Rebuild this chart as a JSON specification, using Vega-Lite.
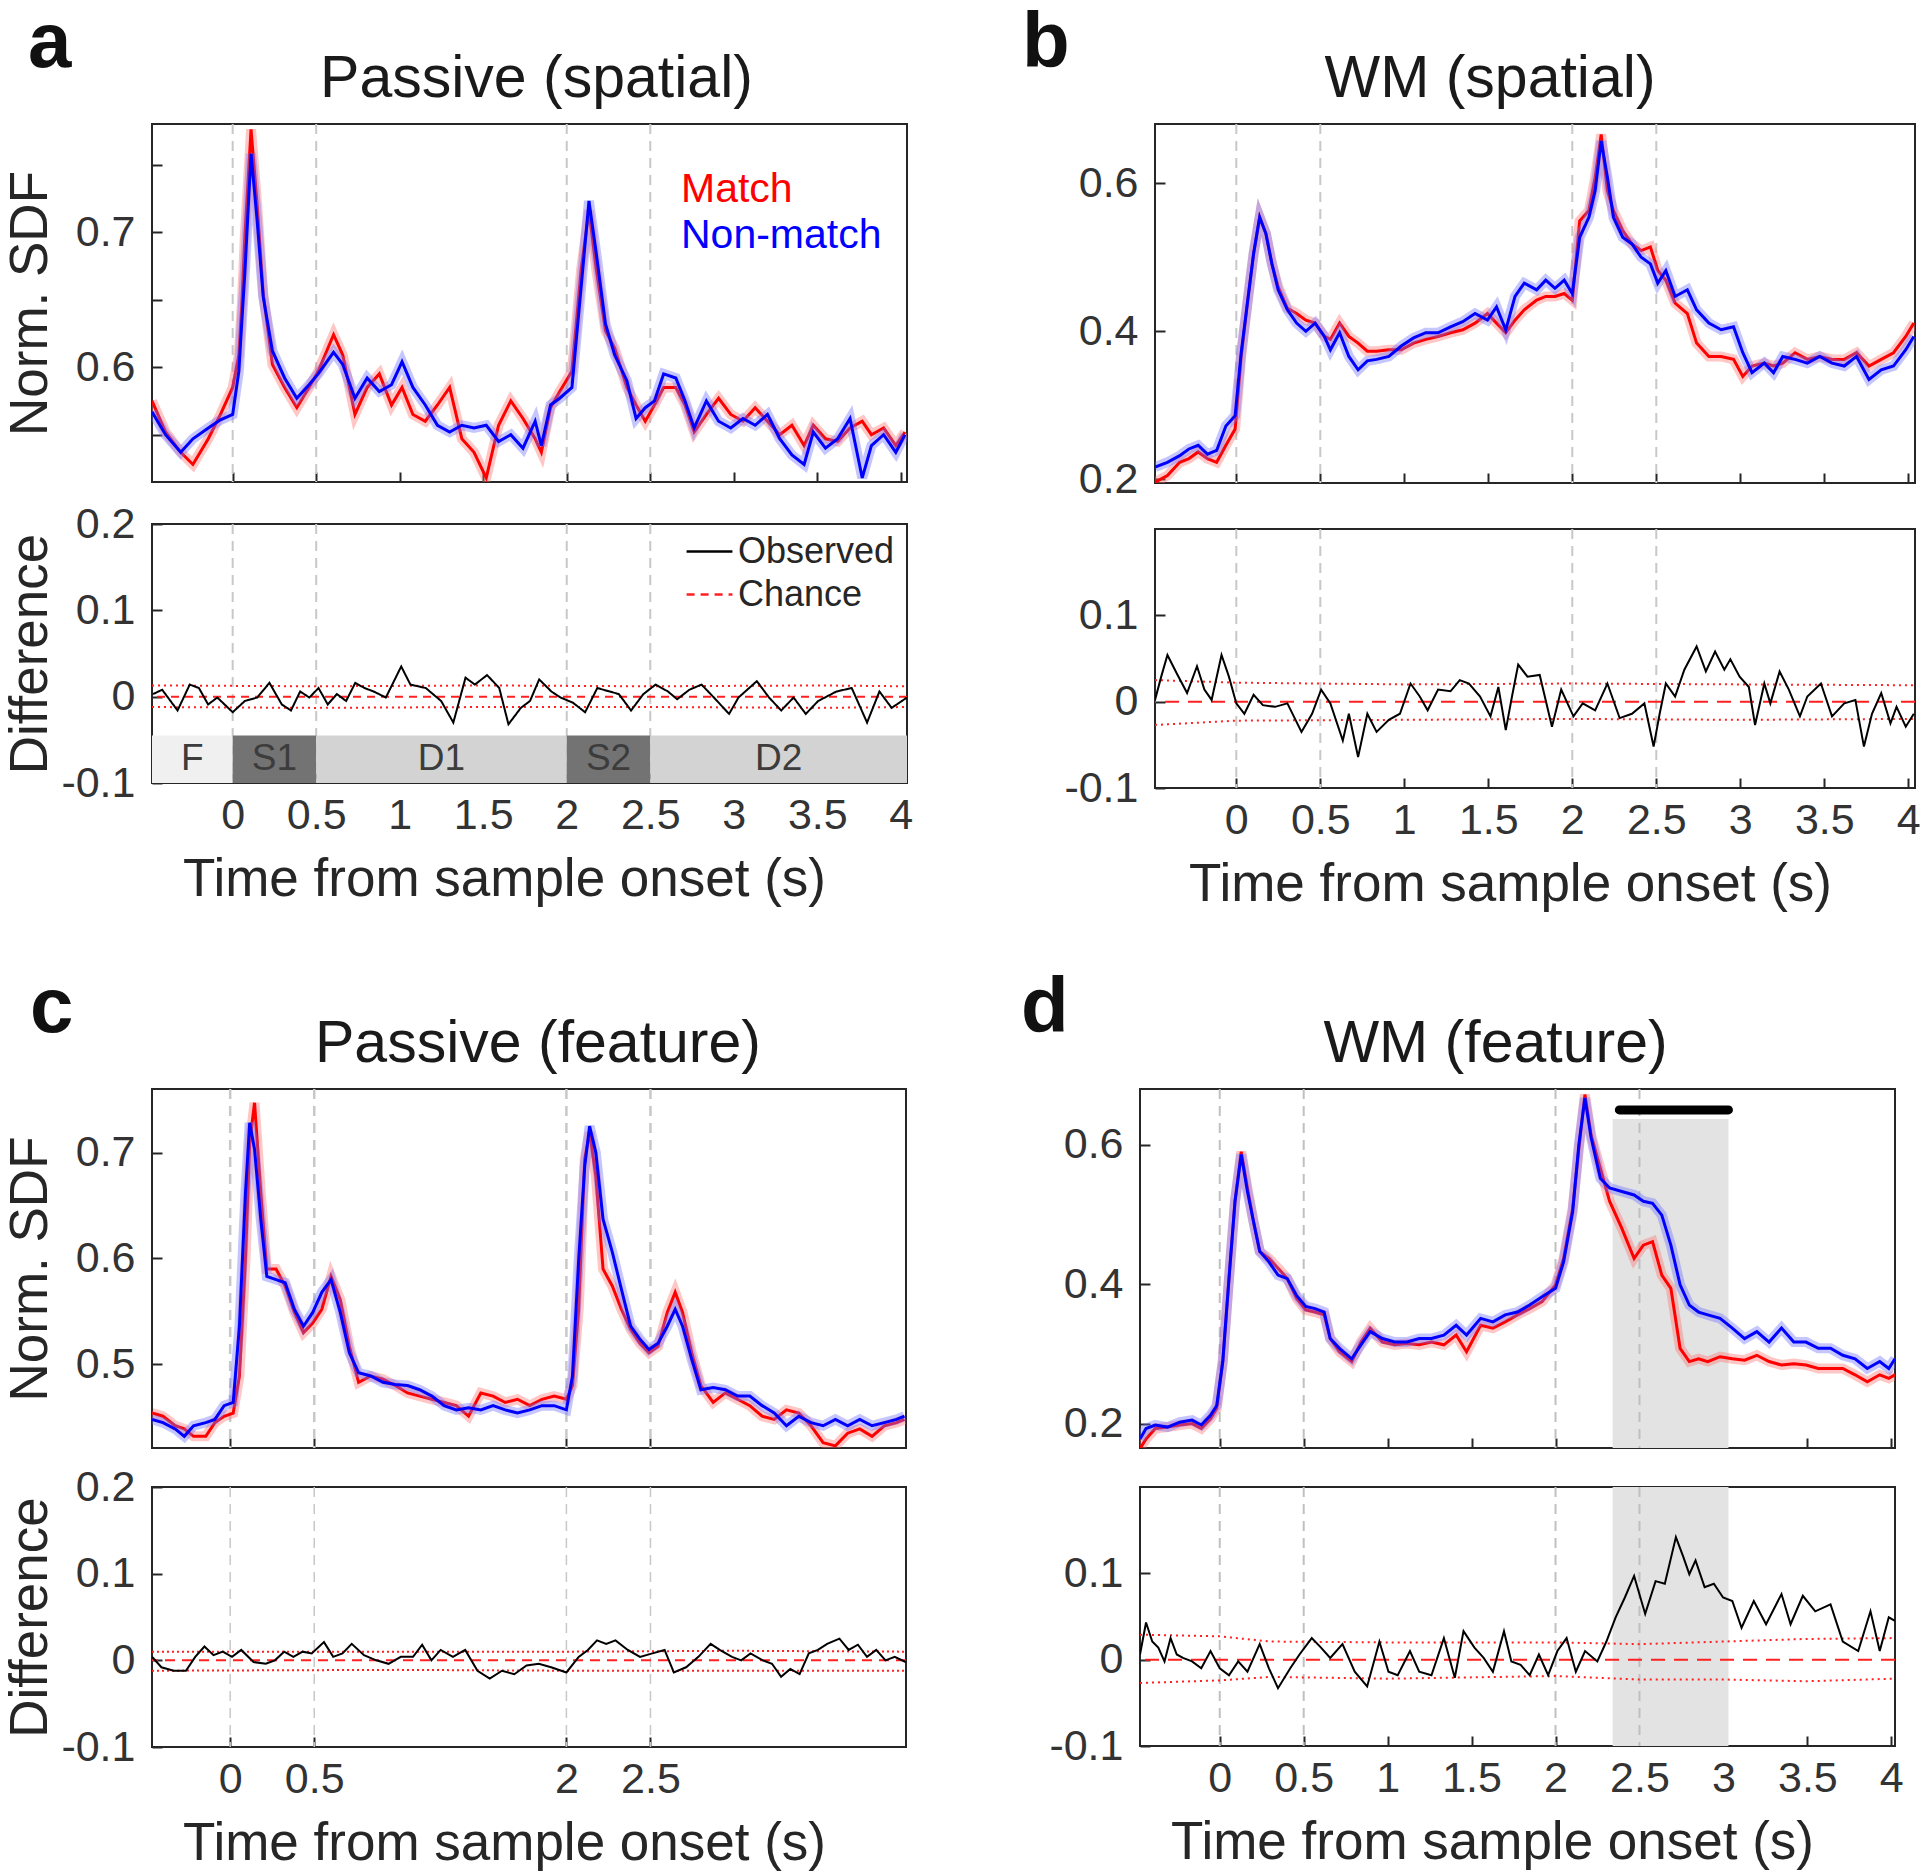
{
"$schema":"https://vega.github.io/schema/vega-lite/v6.json",
"background":"white",
"padding":{"left":3,"top":5,"right":3,"bottom":5},
"config":{
 "font":"Liberation Sans",
 "view":{"stroke":"#262626","strokeWidth":2},
 "axis":{"domain":false,"grid":false,"tickSize":-10,"tickWidth":2,"tickColor":"#262626","labelFontSize":43,"labelColor":"#333333","labelFlush":false,"labelOverlap":false,"titleFontSize":53,"titleFontWeight":"normal","titleColor":"#262626","titlePadding":16},
 "axisX":{"labelPadding":21},
 "axisY":{"labelPadding":27},
 "title":{"fontSize":59,"fontWeight":"normal","color":"#1a1a1a"},
 "legend":{"labelFontSize":40,"labelLimit":500}
},
"datasets":{
 "vl":[{"t":0},{"t":0.5},{"t":2},{"t":2.5}],
 "one":[{"z":0}],
 "ep":[{"t":-0.483,"t1":0,"lab":"F","k":"f"},{"t":0,"t1":0.5,"lab":"S1","k":"s"},{"t":0.5,"t1":2,"lab":"D1","k":"d"},{"t":2,"t1":2.5,"lab":"S2","k":"s"},{"t":2.5,"t1":4.037,"lab":"D2","k":"d"}],
 "dS":[{"t":2.34,"t1":3.03,"lo":0.165,"hi":0.637}],
 "dB":[{"t":2.38,"t1":3.03,"v":0.65}],
 "aT":[{"t":-0.483,"m":0.575,"n":0.567},{"t":-0.402,"m":0.552,"n":0.55},{"t":-0.311,"m":0.537,"n":0.537},{"t":-0.238,"m":0.528,"n":0.547},{"t":-0.146,"m":0.547,"n":0.555},{"t":-0.073,"m":0.565,"n":0.561},{"t":0,"m":0.585,"n":0.565},{"t":0.037,"m":0.609,"n":0.597},{"t":0.055,"m":0.647,"n":0.634},{"t":0.073,"m":0.697,"n":0.67},{"t":0.11,"m":0.776,"n":0.758},{"t":0.146,"m":0.721,"n":0.709},{"t":0.183,"m":0.654,"n":0.652},{"t":0.238,"m":0.602,"n":0.612},{"t":0.311,"m":0.585,"n":0.592},{"t":0.384,"m":0.57,"n":0.577},{"t":0.457,"m":0.585,"n":0.587},{"t":0.512,"m":0.597,"n":0.595},{"t":0.604,"m":0.624,"n":0.611},{"t":0.659,"m":0.609,"n":0.602},{"t":0.732,"m":0.565,"n":0.577},{"t":0.805,"m":0.585,"n":0.592},{"t":0.878,"m":0.595,"n":0.582},{"t":0.951,"m":0.572,"n":0.587},{"t":1.014,"m":0.585,"n":0.604},{"t":1.079,"m":0.565,"n":0.585},{"t":1.153,"m":0.56,"n":0.572},{"t":1.226,"m":0.572,"n":0.557},{"t":1.299,"m":0.585,"n":0.552},{"t":1.372,"m":0.547,"n":0.557},{"t":1.445,"m":0.537,"n":0.555},{"t":1.518,"m":0.518,"n":0.557},{"t":1.592,"m":0.557,"n":0.545},{"t":1.665,"m":0.575,"n":0.55},{"t":1.738,"m":0.562,"n":0.54},{"t":1.811,"m":0.547,"n":0.56},{"t":1.848,"m":0.537,"n":0.542},{"t":1.903,"m":0.57,"n":0.572},{"t":1.958,"m":0.582,"n":0.577},{"t":2.031,"m":0.597,"n":0.585},{"t":2.086,"m":0.672,"n":0.659},{"t":2.133,"m":0.716,"n":0.723},{"t":2.177,"m":0.672,"n":0.684},{"t":2.232,"m":0.627,"n":0.632},{"t":2.287,"m":0.614,"n":0.609},{"t":2.36,"m":0.585,"n":0.59},{"t":2.415,"m":0.572,"n":0.562},{"t":2.47,"m":0.56,"n":0.57},{"t":2.525,"m":0.572,"n":0.575},{"t":2.58,"m":0.585,"n":0.595},{"t":2.653,"m":0.585,"n":0.592},{"t":2.708,"m":0.572,"n":0.575},{"t":2.763,"m":0.552,"n":0.555},{"t":2.836,"m":0.565,"n":0.575},{"t":2.909,"m":0.577,"n":0.56},{"t":2.982,"m":0.565,"n":0.555},{"t":3.055,"m":0.56,"n":0.562},{"t":3.128,"m":0.57,"n":0.557},{"t":3.202,"m":0.56,"n":0.565},{"t":3.275,"m":0.55,"n":0.547},{"t":3.348,"m":0.557,"n":0.535},{"t":3.421,"m":0.542,"n":0.528},{"t":3.476,"m":0.557,"n":0.552},{"t":3.549,"m":0.547,"n":0.54},{"t":3.622,"m":0.545,"n":0.547},{"t":3.696,"m":0.555,"n":0.562},{"t":3.769,"m":0.56,"n":0.518},{"t":3.824,"m":0.55,"n":0.542},{"t":3.897,"m":0.555,"n":0.55},{"t":3.97,"m":0.542,"n":0.537},{"t":4.025,"m":0.552,"n":0.55}],
 "aD":[{"t":-0.477,"d":0.003},{"t":-0.422,"d":0.008},{"t":-0.33,"d":-0.016},{"t":-0.257,"d":0.014},{"t":-0.202,"d":0.01},{"t":-0.147,"d":-0.009},{"t":-0.092,"d":-0.001},{"t":0,"d":-0.018},{"t":0.073,"d":-0.005},{"t":0.147,"d":-0.001},{"t":0.22,"d":0.016},{"t":0.294,"d":-0.009},{"t":0.349,"d":-0.016},{"t":0.404,"d":0.006},{"t":0.459,"d":-0.001},{"t":0.514,"d":0.01},{"t":0.569,"d":-0.009},{"t":0.624,"d":0.003},{"t":0.679,"d":-0.005},{"t":0.734,"d":0.016},{"t":0.789,"d":0.01},{"t":0.844,"d":0.006},{"t":0.917,"d":-0.001},{"t":1.009,"d":0.035},{"t":1.064,"d":0.014},{"t":1.156,"d":0.01},{"t":1.248,"d":-0.005},{"t":1.321,"d":-0.03},{"t":1.394,"d":0.022},{"t":1.45,"d":0.014},{"t":1.523,"d":0.025},{"t":1.596,"d":0.01},{"t":1.651,"d":-0.032},{"t":1.725,"d":-0.013},{"t":1.78,"d":-0.005},{"t":1.835,"d":0.02},{"t":1.908,"d":0.006},{"t":1.963,"d":-0.001},{"t":2.037,"d":-0.007},{"t":2.11,"d":-0.018},{"t":2.183,"d":0.01},{"t":2.257,"d":0.006},{"t":2.312,"d":0.003},{"t":2.385,"d":-0.016},{"t":2.459,"d":0.003},{"t":2.532,"d":0.014},{"t":2.606,"d":0.006},{"t":2.661,"d":-0.003},{"t":2.734,"d":0.008},{"t":2.807,"d":0.014},{"t":2.881,"d":-0.001},{"t":2.972,"d":-0.02},{"t":3.028,"d":-0.001},{"t":3.138,"d":0.018},{"t":3.211,"d":-0.001},{"t":3.284,"d":-0.016},{"t":3.358,"d":-0.001},{"t":3.431,"d":-0.02},{"t":3.505,"d":-0.005},{"t":3.615,"d":0.006},{"t":3.706,"d":0.01},{"t":3.798,"d":-0.03},{"t":3.872,"d":0.006},{"t":3.945,"d":-0.013},{"t":4.037,"d":-0.001}],
 "aC":[{"t":-0.483,"hi":0.013,"lo":-0.012},{"t":0.5,"hi":0.012,"lo":-0.013},{"t":1.5,"hi":0.013,"lo":-0.012},{"t":2.5,"hi":0.012,"lo":-0.012},{"t":3.5,"hi":0.013,"lo":-0.013},{"t":4.037,"hi":0.012,"lo":-0.012}],
 "bT":[{"t":-0.484,"m":0.196,"n":0.2165},{"t":-0.41,"m":0.205,"n":0.223},{"t":-0.337,"m":0.223,"n":0.232},{"t":-0.282,"m":0.228,"n":0.241},{"t":-0.227,"m":0.237,"n":0.246},{"t":-0.172,"m":0.228,"n":0.234},{"t":-0.117,"m":0.223,"n":0.239},{"t":-0.062,"m":0.246,"n":0.272},{"t":-0.007,"m":0.268,"n":0.286},{"t":0.029,"m":0.366,"n":0.371},{"t":0.066,"m":0.438,"n":0.438},{"t":0.103,"m":0.505,"n":0.505},{"t":0.139,"m":0.554,"n":0.554},{"t":0.176,"m":0.532,"n":0.532},{"t":0.212,"m":0.491,"n":0.491},{"t":0.249,"m":0.46,"n":0.456},{"t":0.304,"m":0.431,"n":0.429},{"t":0.359,"m":0.424,"n":0.411},{"t":0.414,"m":0.415,"n":0.4},{"t":0.469,"m":0.411,"n":0.411},{"t":0.524,"m":0.393,"n":0.393},{"t":0.56,"m":0.389,"n":0.375},{"t":0.615,"m":0.411,"n":0.398},{"t":0.67,"m":0.393,"n":0.366},{"t":0.725,"m":0.384,"n":0.348},{"t":0.78,"m":0.373,"n":0.36},{"t":0.835,"m":0.373,"n":0.362},{"t":0.908,"m":0.375,"n":0.366},{"t":0.982,"m":0.375,"n":0.38},{"t":1.055,"m":0.384,"n":0.391},{"t":1.128,"m":0.389,"n":0.398},{"t":1.201,"m":0.393,"n":0.398},{"t":1.275,"m":0.398,"n":0.406},{"t":1.348,"m":0.402,"n":0.413},{"t":1.421,"m":0.411,"n":0.424},{"t":1.495,"m":0.424,"n":0.415},{"t":1.549,"m":0.411,"n":0.433},{"t":1.604,"m":0.398,"n":0.402},{"t":1.659,"m":0.415,"n":0.447},{"t":1.714,"m":0.429,"n":0.465},{"t":1.788,"m":0.442,"n":0.456},{"t":1.842,"m":0.447,"n":0.469},{"t":1.897,"m":0.447,"n":0.458},{"t":1.952,"m":0.451,"n":0.469},{"t":2.0,"m":0.442,"n":0.451},{"t":2.044,"m":0.549,"n":0.527},{"t":2.099,"m":0.563,"n":0.554},{"t":2.136,"m":0.608,"n":0.59},{"t":2.172,"m":0.666,"n":0.657},{"t":2.209,"m":0.59,"n":0.608},{"t":2.245,"m":0.563,"n":0.554},{"t":2.3,"m":0.536,"n":0.527},{"t":2.355,"m":0.518,"n":0.518},{"t":2.41,"m":0.509,"n":0.5},{"t":2.465,"m":0.514,"n":0.491},{"t":2.509,"m":0.482,"n":0.465},{"t":2.557,"m":0.469,"n":0.482},{"t":2.612,"m":0.438,"n":0.447},{"t":2.685,"m":0.424,"n":0.456},{"t":2.74,"m":0.384,"n":0.429},{"t":2.813,"m":0.366,"n":0.411},{"t":2.886,"m":0.366,"n":0.402},{"t":2.96,"m":0.362,"n":0.406},{"t":3.015,"m":0.339,"n":0.371},{"t":3.07,"m":0.353,"n":0.344},{"t":3.143,"m":0.357,"n":0.357},{"t":3.198,"m":0.353,"n":0.344},{"t":3.253,"m":0.357,"n":0.366},{"t":3.326,"m":0.371,"n":0.362},{"t":3.399,"m":0.362,"n":0.357},{"t":3.473,"m":0.366,"n":0.366},{"t":3.546,"m":0.362,"n":0.357},{"t":3.619,"m":0.362,"n":0.353},{"t":3.692,"m":0.371,"n":0.366},{"t":3.766,"m":0.353,"n":0.335},{"t":3.839,"m":0.362,"n":0.348},{"t":3.912,"m":0.371,"n":0.353},{"t":3.985,"m":0.393,"n":0.375},{"t":4.033,"m":0.411,"n":0.393}],
 "bD":[{"t":-0.484,"d":0.002},{"t":-0.447,"d":0.029},{"t":-0.41,"d":0.054},{"t":-0.355,"d":0.033},{"t":-0.293,"d":0.01},{"t":-0.234,"d":0.041},{"t":-0.19,"d":0.014},{"t":-0.147,"d":0.002},{"t":-0.088,"d":0.054},{"t":-0.044,"d":0.029},{"t":0,"d":-0.002},{"t":0.048,"d":-0.014},{"t":0.103,"d":0.008},{"t":0.158,"d":-0.004},{"t":0.231,"d":-0.006},{"t":0.304,"d":-0.002},{"t":0.388,"d":-0.035},{"t":0.451,"d":-0.014},{"t":0.505,"d":0.014},{"t":0.56,"d":-0.002},{"t":0.634,"d":-0.045},{"t":0.67,"d":-0.014},{"t":0.725,"d":-0.064},{"t":0.78,"d":-0.014},{"t":0.835,"d":-0.035},{"t":0.908,"d":-0.021},{"t":0.974,"d":-0.014},{"t":1.037,"d":0.021},{"t":1.092,"d":0.006},{"t":1.139,"d":-0.01},{"t":1.201,"d":0.014},{"t":1.275,"d":0.012},{"t":1.33,"d":0.025},{"t":1.385,"d":0.021},{"t":1.451,"d":0.006},{"t":1.513,"d":-0.017},{"t":1.56,"d":0.017},{"t":1.604,"d":-0.033},{"t":1.641,"d":0.006},{"t":1.678,"d":0.043},{"t":1.733,"d":0.029},{"t":1.806,"d":0.031},{"t":1.879,"d":-0.029},{"t":1.934,"d":0.014},{"t":2.007,"d":-0.017},{"t":2.062,"d":-0.002},{"t":2.136,"d":-0.01},{"t":2.209,"d":0.021},{"t":2.282,"d":-0.019},{"t":2.355,"d":-0.014},{"t":2.429,"d":-0.002},{"t":2.484,"d":-0.052},{"t":2.52,"d":-0.014},{"t":2.557,"d":0.021},{"t":2.612,"d":0.006},{"t":2.667,"d":0.037},{"t":2.74,"d":0.064},{"t":2.795,"d":0.035},{"t":2.85,"d":0.058},{"t":2.905,"d":0.037},{"t":2.941,"d":0.049},{"t":2.996,"d":0.029},{"t":3.051,"d":0.017},{"t":3.088,"d":-0.027},{"t":3.143,"d":0.021},{"t":3.179,"d":-0.002},{"t":3.234,"d":0.035},{"t":3.289,"d":0.014},{"t":3.355,"d":-0.017},{"t":3.399,"d":0.006},{"t":3.48,"d":0.021},{"t":3.546,"d":-0.017},{"t":3.619,"d":-0.002},{"t":3.685,"d":0.002},{"t":3.736,"d":-0.052},{"t":3.784,"d":-0.014},{"t":3.839,"d":0.01},{"t":3.894,"d":-0.025},{"t":3.93,"d":-0.006},{"t":3.985,"d":-0.029},{"t":4.033,"d":-0.014}],
 "bC":[{"t":-0.484,"hi":0.025,"lo":-0.027},{"t":0,"hi":0.022,"lo":-0.022},{"t":1,"hi":0.02,"lo":-0.021},{"t":2,"hi":0.021,"lo":-0.02},{"t":3,"hi":0.02,"lo":-0.021},{"t":4.04,"hi":0.019,"lo":-0.02}],
 "cT":[{"t":-0.465,"m":0.454,"n":0.448},{"t":-0.4,"m":0.451,"n":0.445},{"t":-0.327,"m":0.442,"n":0.439},{"t":-0.273,"m":0.439,"n":0.432},{"t":-0.218,"m":0.432,"n":0.442},{"t":-0.145,"m":0.432,"n":0.445},{"t":-0.091,"m":0.445,"n":0.448},{"t":-0.036,"m":0.451,"n":0.461},{"t":0.018,"m":0.454,"n":0.464},{"t":0.055,"m":0.489,"n":0.536},{"t":0.091,"m":0.599,"n":0.662},{"t":0.116,"m":0.709,"n":0.728},{"t":0.145,"m":0.747,"n":0.703},{"t":0.182,"m":0.662,"n":0.637},{"t":0.218,"m":0.59,"n":0.583},{"t":0.273,"m":0.59,"n":0.58},{"t":0.327,"m":0.574,"n":0.577},{"t":0.382,"m":0.549,"n":0.552},{"t":0.436,"m":0.53,"n":0.536},{"t":0.491,"m":0.539,"n":0.549},{"t":0.545,"m":0.552,"n":0.568},{"t":0.6,"m":0.583,"n":0.58},{"t":0.655,"m":0.561,"n":0.549},{"t":0.709,"m":0.517,"n":0.511},{"t":0.764,"m":0.483,"n":0.492},{"t":0.836,"m":0.489,"n":0.489},{"t":0.909,"m":0.486,"n":0.483},{"t":0.982,"m":0.48,"n":0.481},{"t":1.055,"m":0.473,"n":0.48},{"t":1.127,"m":0.47,"n":0.476},{"t":1.2,"m":0.467,"n":0.47},{"t":1.273,"m":0.464,"n":0.461},{"t":1.345,"m":0.461,"n":0.457},{"t":1.418,"m":0.451,"n":0.459},{"t":1.491,"m":0.473,"n":0.457},{"t":1.564,"m":0.47,"n":0.461},{"t":1.636,"m":0.464,"n":0.457},{"t":1.709,"m":0.467,"n":0.454},{"t":1.782,"m":0.461,"n":0.457},{"t":1.855,"m":0.467,"n":0.461},{"t":1.927,"m":0.47,"n":0.461},{"t":2.0,"m":0.467,"n":0.457},{"t":2.036,"m":0.48,"n":0.489},{"t":2.073,"m":0.552,"n":0.599},{"t":2.109,"m":0.694,"n":0.687},{"t":2.138,"m":0.719,"n":0.725},{"t":2.175,"m":0.678,"n":0.7},{"t":2.218,"m":0.59,"n":0.637},{"t":2.273,"m":0.574,"n":0.606},{"t":2.327,"m":0.552,"n":0.571},{"t":2.382,"m":0.533,"n":0.536},{"t":2.436,"m":0.52,"n":0.524},{"t":2.491,"m":0.511,"n":0.514},{"t":2.545,"m":0.517,"n":0.52},{"t":2.6,"m":0.549,"n":0.536},{"t":2.647,"m":0.568,"n":0.552},{"t":2.691,"m":0.549,"n":0.536},{"t":2.745,"m":0.511,"n":0.505},{"t":2.8,"m":0.48,"n":0.476},{"t":2.873,"m":0.464,"n":0.478},{"t":2.945,"m":0.473,"n":0.476},{"t":3.018,"m":0.467,"n":0.47},{"t":3.091,"m":0.461,"n":0.47},{"t":3.164,"m":0.451,"n":0.461},{"t":3.236,"m":0.448,"n":0.454},{"t":3.309,"m":0.457,"n":0.442},{"t":3.382,"m":0.454,"n":0.451},{"t":3.455,"m":0.442,"n":0.445},{"t":3.527,"m":0.426,"n":0.442},{"t":3.6,"m":0.423,"n":0.448},{"t":3.673,"m":0.435,"n":0.442},{"t":3.745,"m":0.439,"n":0.448},{"t":3.818,"m":0.432,"n":0.442},{"t":3.891,"m":0.442,"n":0.445},{"t":3.964,"m":0.445,"n":0.448},{"t":4.011,"m":0.448,"n":0.451}],
 "cD":[{"t":-0.464,"d":0.004},{"t":-0.409,"d":-0.008},{"t":-0.336,"d":-0.012},{"t":-0.263,"d":-0.012},{"t":-0.208,"d":0.004},{"t":-0.153,"d":0.016},{"t":-0.099,"d":0.006},{"t":-0.044,"d":0.01},{"t":0.011,"d":0.004},{"t":0.066,"d":0.012},{"t":0.139,"d":-0.002},{"t":0.212,"d":-0.004},{"t":0.266,"d":0},{"t":0.321,"d":0.01},{"t":0.376,"d":0.004},{"t":0.431,"d":0.01},{"t":0.485,"d":0.008},{"t":0.558,"d":0.021},{"t":0.613,"d":0.004},{"t":0.668,"d":0.008},{"t":0.723,"d":0.019},{"t":0.796,"d":0.006},{"t":0.869,"d":0},{"t":0.942,"d":-0.004},{"t":1.015,"d":0.004},{"t":1.088,"d":0.004},{"t":1.142,"d":0.018},{"t":1.197,"d":0},{"t":1.252,"d":0.012},{"t":1.325,"d":0.004},{"t":1.398,"d":0.012},{"t":1.471,"d":-0.012},{"t":1.544,"d":-0.021},{"t":1.617,"d":-0.012},{"t":1.69,"d":-0.016},{"t":1.763,"d":-0.006},{"t":1.836,"d":-0.004},{"t":1.909,"d":-0.008},{"t":2.0,"d":-0.014},{"t":2.073,"d":0.004},{"t":2.128,"d":0.012},{"t":2.182,"d":0.023},{"t":2.237,"d":0.019},{"t":2.292,"d":0.023},{"t":2.365,"d":0.012},{"t":2.438,"d":0.004},{"t":2.511,"d":0.008},{"t":2.584,"d":0.012},{"t":2.639,"d":-0.014},{"t":2.712,"d":-0.008},{"t":2.785,"d":0.004},{"t":2.858,"d":0.019},{"t":2.912,"d":0.012},{"t":2.985,"d":0.004},{"t":3.04,"d":0},{"t":3.095,"d":0.008},{"t":3.168,"d":0},{"t":3.223,"d":-0.004},{"t":3.277,"d":-0.019},{"t":3.332,"d":-0.01},{"t":3.387,"d":-0.016},{"t":3.442,"d":0.008},{"t":3.496,"d":0.012},{"t":3.551,"d":0.019},{"t":3.624,"d":0.025},{"t":3.679,"d":0.012},{"t":3.734,"d":0.018},{"t":3.788,"d":0.004},{"t":3.843,"d":0.012},{"t":3.898,"d":0},{"t":3.953,"d":0.004},{"t":4.018,"d":-0.002}],
 "cC":[{"t":-0.465,"hi":0.01,"lo":-0.012},{"t":1,"hi":0.01,"lo":-0.011},{"t":2,"hi":0.01,"lo":-0.012},{"t":3,"hi":0.011,"lo":-0.012},{"t":4.02,"hi":0.01,"lo":-0.012}],
 "dT":[{"t":-0.475,"m":0.164,"n":0.178},{"t":-0.439,"m":0.178,"n":0.193},{"t":-0.384,"m":0.193,"n":0.198},{"t":-0.311,"m":0.195,"n":0.195},{"t":-0.238,"m":0.198,"n":0.202},{"t":-0.165,"m":0.2,"n":0.205},{"t":-0.11,"m":0.193,"n":0.198},{"t":-0.055,"m":0.207,"n":0.212},{"t":-0.018,"m":0.222,"n":0.226},{"t":0.018,"m":0.289,"n":0.289},{"t":0.055,"m":0.408,"n":0.408},{"t":0.091,"m":0.519,"n":0.519},{"t":0.128,"m":0.59,"n":0.586},{"t":0.165,"m":0.538,"n":0.533},{"t":0.201,"m":0.49,"n":0.49},{"t":0.238,"m":0.447,"n":0.447},{"t":0.293,"m":0.437,"n":0.432},{"t":0.347,"m":0.423,"n":0.413},{"t":0.402,"m":0.408,"n":0.408},{"t":0.457,"m":0.38,"n":0.384},{"t":0.512,"m":0.363,"n":0.368},{"t":0.567,"m":0.36,"n":0.365},{"t":0.622,"m":0.356,"n":0.36},{"t":0.658,"m":0.322,"n":0.322},{"t":0.713,"m":0.303,"n":0.308},{"t":0.786,"m":0.289,"n":0.293},{"t":0.841,"m":0.317,"n":0.313},{"t":0.896,"m":0.337,"n":0.332},{"t":0.969,"m":0.317,"n":0.322},{"t":1.042,"m":0.313,"n":0.317},{"t":1.115,"m":0.315,"n":0.317},{"t":1.188,"m":0.313,"n":0.322},{"t":1.261,"m":0.317,"n":0.322},{"t":1.335,"m":0.313,"n":0.327},{"t":1.408,"m":0.327,"n":0.341},{"t":1.47,"m":0.303,"n":0.327},{"t":1.554,"m":0.341,"n":0.351},{"t":1.627,"m":0.337,"n":0.346},{"t":1.7,"m":0.346,"n":0.356},{"t":1.773,"m":0.356,"n":0.36},{"t":1.846,"m":0.365,"n":0.37},{"t":1.92,"m":0.375,"n":0.382},{"t":2.0,"m":0.399,"n":0.394},{"t":2.048,"m":0.437,"n":0.432},{"t":2.102,"m":0.509,"n":0.504},{"t":2.139,"m":0.595,"n":0.6},{"t":2.175,"m":0.672,"n":0.667},{"t":2.212,"m":0.614,"n":0.61},{"t":2.267,"m":0.566,"n":0.552},{"t":2.322,"m":0.519,"n":0.538},{"t":2.395,"m":0.48,"n":0.533},{"t":2.468,"m":0.437,"n":0.528},{"t":2.523,"m":0.456,"n":0.519},{"t":2.578,"m":0.461,"n":0.516},{"t":2.633,"m":0.413,"n":0.499},{"t":2.687,"m":0.394,"n":0.456},{"t":2.742,"m":0.308,"n":0.399},{"t":2.797,"m":0.289,"n":0.37},{"t":2.852,"m":0.293,"n":0.36},{"t":2.907,"m":0.289,"n":0.356},{"t":2.98,"m":0.296,"n":0.351},{"t":3.053,"m":0.293,"n":0.337},{"t":3.126,"m":0.291,"n":0.322},{"t":3.199,"m":0.298,"n":0.332},{"t":3.272,"m":0.289,"n":0.317},{"t":3.346,"m":0.284,"n":0.337},{"t":3.419,"m":0.286,"n":0.317},{"t":3.492,"m":0.284,"n":0.317},{"t":3.565,"m":0.279,"n":0.308},{"t":3.638,"m":0.279,"n":0.308},{"t":3.711,"m":0.279,"n":0.298},{"t":3.784,"m":0.27,"n":0.293},{"t":3.857,"m":0.26,"n":0.279},{"t":3.931,"m":0.27,"n":0.289},{"t":3.985,"m":0.265,"n":0.279},{"t":4.022,"m":0.27,"n":0.293}],
 "dD":[{"t":-0.475,"d":0.006},{"t":-0.439,"d":0.043},{"t":-0.402,"d":0.021},{"t":-0.366,"d":0.014},{"t":-0.329,"d":-0.002},{"t":-0.293,"d":0.025},{"t":-0.256,"d":0.006},{"t":-0.219,"d":0.002},{"t":-0.165,"d":-0.002},{"t":-0.11,"d":-0.01},{"t":-0.055,"d":0.01},{"t":0,"d":-0.01},{"t":0.055,"d":-0.018},{"t":0.11,"d":-0.002},{"t":0.165,"d":-0.014},{"t":0.238,"d":0.018},{"t":0.293,"d":-0.01},{"t":0.347,"d":-0.033},{"t":0.42,"d":-0.01},{"t":0.475,"d":0.006},{"t":0.548,"d":0.025},{"t":0.603,"d":0.014},{"t":0.658,"d":0.002},{"t":0.731,"d":0.018},{"t":0.804,"d":-0.014},{"t":0.878,"d":-0.031},{"t":0.951,"d":0.021},{"t":1.005,"d":-0.014},{"t":1.06,"d":-0.018},{"t":1.133,"d":0.01},{"t":1.188,"d":-0.014},{"t":1.261,"d":-0.018},{"t":1.335,"d":0.025},{"t":1.4,"d":-0.021},{"t":1.452,"d":0.033},{"t":1.517,"d":0.014},{"t":1.572,"d":0.002},{"t":1.627,"d":-0.014},{"t":1.693,"d":0.033},{"t":1.737,"d":-0.002},{"t":1.792,"d":-0.006},{"t":1.846,"d":-0.018},{"t":1.901,"d":0.006},{"t":1.956,"d":-0.018},{"t":2.011,"d":0.01},{"t":2.066,"d":0.025},{"t":2.121,"d":-0.014},{"t":2.176,"d":0.01},{"t":2.249,"d":-0.002},{"t":2.303,"d":0.021},{"t":2.358,"d":0.049},{"t":2.413,"d":0.072},{"t":2.468,"d":0.097},{"t":2.534,"d":0.053},{"t":2.596,"d":0.091},{"t":2.651,"d":0.088},{"t":2.717,"d":0.142},{"t":2.761,"d":0.119},{"t":2.797,"d":0.099},{"t":2.834,"d":0.115},{"t":2.888,"d":0.084},{"t":2.943,"d":0.088},{"t":2.998,"d":0.072},{"t":3.053,"d":0.068},{"t":3.108,"d":0.037},{"t":3.181,"d":0.068},{"t":3.254,"d":0.041},{"t":3.346,"d":0.076},{"t":3.4,"d":0.041},{"t":3.473,"d":0.074},{"t":3.547,"d":0.056},{"t":3.638,"d":0.064},{"t":3.711,"d":0.021},{"t":3.803,"d":0.01},{"t":3.876,"d":0.056},{"t":3.931,"d":0.01},{"t":3.985,"d":0.049},{"t":4.022,"d":0.045}],
 "dC":[{"t":-0.475,"hi":0.029,"lo":-0.027},{"t":0,"hi":0.027,"lo":-0.024},{"t":0.3,"hi":0.021,"lo":-0.02},{"t":1,"hi":0.02,"lo":-0.022},{"t":2,"hi":0.02,"lo":-0.019},{"t":2.5,"hi":0.018,"lo":-0.023},{"t":3,"hi":0.021,"lo":-0.023},{"t":3.5,"hi":0.024,"lo":-0.025},{"t":4.022,"hi":0.025,"lo":-0.022}]
},
"resolve":{"scale":{"color":"independent","stroke":"independent","strokeDash":"independent","fill":"independent"},"legend":{"color":"independent","stroke":"independent","strokeDash":"independent","fill":"independent"}},
"spacing":57,
"vconcat":[
 {"hconcat":[
  {"title":{"text":"a","anchor":"start","frame":"group","fontSize":78,"fontWeight":"bold","color":"#111111","dx":-124,"dy":34,"offset":0},
   "bounds":"flush","spacing":42,
   "resolve":{"scale":{"color":"independent","stroke":"independent","strokeDash":"independent","fill":"independent"},"legend":{"color":"independent","stroke":"independent","strokeDash":"independent","fill":"independent"}},
   "vconcat":[
    {"width":755,"height":358,"title":{"text":"Passive (spatial)","offset":14,"dx":7},
     "layer":[
      {"data":{"name":"vl"},"mark":{"type":"rule","color":"#c8c8c8","strokeDash":[10,7],"strokeWidth":2},
       "encoding":{"x":{"field":"t","type":"quantitative","scale":{"domain":[-0.483,4.037],"nice":false,"zero":false},"axis":{"title":null,"labels":false,"values":[0,0.5,1,1.5,2,2.5,3,3.5,4]}}}},
      {"data":{"name":"aT"},"mark":{"type":"line","color":"#ff7070","strokeWidth":10,"opacity":0.4,"clip":true},
       "encoding":{"x":{"field":"t","type":"quantitative","title":null},"y":{"field":"m","type":"quantitative","scale":{"domain":[0.515,0.78],"nice":false,"zero":false},"axis":{"title":"Norm. SDF","titleX":-95,"values":[0.55,0.6,0.65,0.7,0.75],"labelExpr":"(abs(datum.value-0.6)<0.001 || abs(datum.value-0.7)<0.001) ? format(datum.value,'.1f') : ''"}}}},
      {"data":{"name":"aT"},"mark":{"type":"line","strokeWidth":3,"clip":true},
       "encoding":{"x":{"field":"t","type":"quantitative","title":null},"y":{"field":"m","type":"quantitative","title":"Norm. SDF"},
        "color":{"datum":"Match","scale":{"domain":["Match","Non-match"],"range":["#ff0000","#0000ff"]},
         "legend":{"orient":"none","legendX":488,"legendY":45,"title":null,"symbolSize":0,"symbolStrokeWidth":0,"symbolOpacity":0,"labelFontSize":41,"labelLimit":500,"rowPadding":4,"labelOffset":0,
          "encode":{"labels":{"update":{"fill":{"signal":"datum.value === 'Match' ? '#ff0000' : '#0000ff'"}}}}}}}},
      {"data":{"name":"aT"},"mark":{"type":"line","color":"#7070ff","strokeWidth":10,"opacity":0.4,"clip":true},
       "encoding":{"x":{"field":"t","type":"quantitative","title":null},"y":{"field":"n","type":"quantitative","title":"Norm. SDF"}}},
      {"data":{"name":"aT"},"mark":{"type":"line","strokeWidth":3,"clip":true},
       "encoding":{"x":{"field":"t","type":"quantitative","title":null},"y":{"field":"n","type":"quantitative","title":"Norm. SDF"},"color":{"datum":"Non-match"}}}
     ]},
    {"width":755,"height":259,
     "layer":[
      {"data":{"name":"vl"},"mark":{"type":"rule","color":"#c8c8c8","strokeDash":[10,7],"strokeWidth":2},
       "encoding":{"x":{"field":"t","type":"quantitative","scale":{"domain":[-0.483,4.037],"nice":false,"zero":false},"axis":{"title":"Time from sample onset (s)","titleX":352,"values":[0,0.5,1,1.5,2,2.5,3,3.5,4],"labelExpr":"format(datum.value,'.1~f')"}}}},
      {"data":{"name":"ep"},"mark":{"type":"rect"},
       "encoding":{"x":{"field":"t","type":"quantitative","title":"Time from sample onset (s)"},"x2":{"field":"t1"},"y":{"datum":-0.1},"y2":{"datum":-0.045},
        "fill":{"field":"k","type":"nominal","scale":{"domain":["f","s","d"],"range":["#f0f0f0","#737373","#d3d3d3"]},"legend":null}}},
      {"data":{"name":"ep"},"transform":[{"calculate":"(datum.t+datum.t1)/2","as":"mid"}],"mark":{"type":"text","fontSize":37,"color":"#3c3c3c","baseline":"middle"},
       "encoding":{"x":{"field":"mid","type":"quantitative","title":"Time from sample onset (s)"},"y":{"datum":-0.0725},"text":{"field":"lab"}}},
      {"data":{"name":"aC"},"mark":{"type":"line","color":"#ff2020","strokeDash":[2,4],"strokeWidth":2},
       "encoding":{"x":{"field":"t","type":"quantitative","title":"Time from sample onset (s)"},"y":{"field":"hi","type":"quantitative","title":"Difference"}}},
      {"data":{"name":"aC"},"mark":{"type":"line","color":"#ff2020","strokeDash":[2,4],"strokeWidth":2},
       "encoding":{"x":{"field":"t","type":"quantitative","title":"Time from sample onset (s)"},"y":{"field":"lo","type":"quantitative","title":"Difference"}}},
      {"data":{"name":"one"},"mark":{"type":"rule","strokeWidth":2},
       "encoding":{"y":{"datum":0},
        "stroke":{"datum":"Chance","scale":{"domain":["Observed","Chance"],"range":["#000000","#ff2020"]},
         "legend":{"orient":"none","legendX":533,"legendY":3,"title":null,"symbolType":"stroke","symbolSize":2100,"symbolStrokeWidth":2.5,"labelFontSize":36,"labelLimit":500,"rowPadding":0,"labelOffset":4,"labelColor":"#262626"}},
        "strokeDash":{"datum":"Chance","scale":{"domain":["Observed","Chance"],"range":[[1,0],[8,6]]},"legend":{"orient":"none","legendX":533,"legendY":3,"title":null,"symbolType":"stroke","symbolSize":2100,"symbolStrokeWidth":2.5,"labelFontSize":36,"labelLimit":500,"rowPadding":0,"labelOffset":4,"labelColor":"#262626"}}}},
      {"data":{"name":"aD"},"mark":{"type":"line","strokeWidth":2,"clip":true},
       "encoding":{"x":{"field":"t","type":"quantitative","title":"Time from sample onset (s)"},
        "y":{"field":"d","type":"quantitative","scale":{"domain":[-0.1,0.2],"nice":false,"zero":false},"axis":{"title":"Difference","titleX":-95,"values":[-0.1,0,0.1,0.2],"labelExpr":"datum.value < 0 ? '-' + format(-datum.value,'.1~f') : format(datum.value,'.1~f')"}},
        "stroke":{"datum":"Observed"},"strokeDash":{"datum":"Observed"}}}
     ]}
   ]},
  {"title":{"text":"b","anchor":"start","frame":"group","fontSize":78,"fontWeight":"bold","color":"#111111","dx":-133,"dy":34,"offset":0},
   "bounds":"flush","spacing":46,
   "resolve":{"scale":{"color":"independent","stroke":"independent","strokeDash":"independent","fill":"independent"},"legend":{"color":"independent","stroke":"independent","strokeDash":"independent","fill":"independent"}},
   "vconcat":[
    {"width":760,"height":359,"title":{"text":"WM (spatial)","offset":14,"dx":-45},
     "layer":[
      {"data":{"name":"vl"},"mark":{"type":"rule","color":"#c8c8c8","strokeDash":[10,7],"strokeWidth":2},
       "encoding":{"x":{"field":"t","type":"quantitative","scale":{"domain":[-0.484,4.04],"nice":false,"zero":false},"axis":{"title":null,"labels":false,"values":[0,0.5,1,1.5,2,2.5,3,3.5,4]}}}},
      {"data":{"name":"bT"},"mark":{"type":"line","color":"#ff7070","strokeWidth":10,"opacity":0.4,"clip":true},
       "encoding":{"x":{"field":"t","type":"quantitative","title":null},"y":{"field":"m","type":"quantitative","scale":{"domain":[0.195,0.68],"nice":false,"zero":false},"axis":{"title":null,"values":[0.2,0.4,0.6],"labelExpr":"format(datum.value,'.1f')"}}}},
      {"data":{"name":"bT"},"mark":{"type":"line","color":"#ff0000","strokeWidth":3,"clip":true},
       "encoding":{"x":{"field":"t","type":"quantitative","title":null},"y":{"field":"m","type":"quantitative","title":null}}},
      {"data":{"name":"bT"},"mark":{"type":"line","color":"#7070ff","strokeWidth":10,"opacity":0.4,"clip":true},
       "encoding":{"x":{"field":"t","type":"quantitative","title":null},"y":{"field":"n","type":"quantitative","title":null}}},
      {"data":{"name":"bT"},"mark":{"type":"line","color":"#0000ff","strokeWidth":3,"clip":true},
       "encoding":{"x":{"field":"t","type":"quantitative","title":null},"y":{"field":"n","type":"quantitative","title":null}}}
     ]},
    {"width":760,"height":259,
     "layer":[
      {"data":{"name":"vl"},"mark":{"type":"rule","color":"#c8c8c8","strokeDash":[10,7],"strokeWidth":2},
       "encoding":{"x":{"field":"t","type":"quantitative","scale":{"domain":[-0.484,4.04],"nice":false,"zero":false},"axis":{"title":"Time from sample onset (s)","titleX":355,"values":[0,0.5,1,1.5,2,2.5,3,3.5,4],"labelExpr":"format(datum.value,'.1~f')"}}}},
      {"data":{"name":"bC"},"mark":{"type":"line","color":"#ff2020","strokeDash":[2,4],"strokeWidth":2},
       "encoding":{"x":{"field":"t","type":"quantitative","title":"Time from sample onset (s)"},"y":{"field":"hi","type":"quantitative","title":null}}},
      {"data":{"name":"bC"},"mark":{"type":"line","color":"#ff2020","strokeDash":[2,4],"strokeWidth":2},
       "encoding":{"x":{"field":"t","type":"quantitative","title":"Time from sample onset (s)"},"y":{"field":"lo","type":"quantitative","title":null}}},
      {"data":{"name":"one"},"mark":{"type":"rule","strokeWidth":2,"color":"#ff2020","strokeDash":[14,9]},
       "encoding":{"y":{"datum":0}}},
      {"data":{"name":"bD"},"mark":{"type":"line","strokeWidth":2,"color":"#000000","clip":true},
       "encoding":{"x":{"field":"t","type":"quantitative","title":"Time from sample onset (s)"},
        "y":{"field":"d","type":"quantitative","scale":{"domain":[-0.1,0.2],"nice":false,"zero":false},"axis":{"title":null,"values":[-0.1,0,0.1],"labelExpr":"datum.value < 0 ? '-' + format(-datum.value,'.1~f') : format(datum.value,'.1~f')"}}}}
     ]}
   ]}
 ],"spacing":108,
 "resolve":{"scale":{"color":"independent","stroke":"independent","strokeDash":"independent","fill":"independent"},"legend":{"color":"independent","stroke":"independent","strokeDash":"independent","fill":"independent"}}},
 {"hconcat":[
  {"title":{"text":"c","anchor":"start","frame":"group","fontSize":78,"fontWeight":"bold","color":"#111111","dx":-122,"dy":34,"offset":0},
   "bounds":"flush","spacing":39,
   "resolve":{"scale":{"color":"independent","stroke":"independent","strokeDash":"independent","fill":"independent"},"legend":{"color":"independent","stroke":"independent","strokeDash":"independent","fill":"independent"}},
   "vconcat":[
    {"width":754,"height":359,"title":{"text":"Passive (feature)","offset":14,"dx":9},
     "layer":[
      {"data":{"name":"vl"},"mark":{"type":"rule","color":"#c8c8c8","strokeDash":[10,7],"strokeWidth":2.5},
       "encoding":{"x":{"field":"t","type":"quantitative","scale":{"domain":[-0.465,4.02],"nice":false,"zero":false},"axis":{"title":null,"labels":false,"values":[0,0.5,2,2.5]}}}},
      {"data":{"name":"cT"},"mark":{"type":"line","color":"#ff7070","strokeWidth":10,"opacity":0.4,"clip":true},
       "encoding":{"x":{"field":"t","type":"quantitative","title":null},"y":{"field":"m","type":"quantitative","scale":{"domain":[0.421,0.76],"nice":false,"zero":false},"axis":{"title":"Norm. SDF","titleX":-95,"values":[0.5,0.6,0.7],"labelExpr":"format(datum.value,'.1f')"}}}},
      {"data":{"name":"cT"},"mark":{"type":"line","color":"#ff0000","strokeWidth":3,"clip":true},
       "encoding":{"x":{"field":"t","type":"quantitative","title":null},"y":{"field":"m","type":"quantitative","title":"Norm. SDF"}}},
      {"data":{"name":"cT"},"mark":{"type":"line","color":"#7070ff","strokeWidth":10,"opacity":0.4,"clip":true},
       "encoding":{"x":{"field":"t","type":"quantitative","title":null},"y":{"field":"n","type":"quantitative","title":"Norm. SDF"}}},
      {"data":{"name":"cT"},"mark":{"type":"line","color":"#0000ff","strokeWidth":3,"clip":true},
       "encoding":{"x":{"field":"t","type":"quantitative","title":null},"y":{"field":"n","type":"quantitative","title":"Norm. SDF"}}}
     ]},
    {"width":754,"height":260,
     "layer":[
      {"data":{"name":"vl"},"mark":{"type":"rule","color":"#c8c8c8","strokeDash":[10,7],"strokeWidth":1.5},
       "encoding":{"x":{"field":"t","type":"quantitative","scale":{"domain":[-0.465,4.02],"nice":false,"zero":false},"axis":{"title":"Time from sample onset (s)","titleX":352,"values":[0,0.5,2,2.5],"labelExpr":"format(datum.value,'.1~f')"}}}},
      {"data":{"name":"cC"},"mark":{"type":"line","color":"#ff2020","strokeDash":[2,3],"strokeWidth":2},
       "encoding":{"x":{"field":"t","type":"quantitative","title":"Time from sample onset (s)"},"y":{"field":"hi","type":"quantitative","title":"Difference"}}},
      {"data":{"name":"cC"},"mark":{"type":"line","color":"#ff2020","strokeDash":[2,3],"strokeWidth":2},
       "encoding":{"x":{"field":"t","type":"quantitative","title":"Time from sample onset (s)"},"y":{"field":"lo","type":"quantitative","title":"Difference"}}},
      {"data":{"name":"one"},"mark":{"type":"rule","strokeWidth":2,"color":"#ff2020","strokeDash":[10,7]},
       "encoding":{"y":{"datum":0}}},
      {"data":{"name":"cD"},"mark":{"type":"line","strokeWidth":2,"color":"#000000","clip":true},
       "encoding":{"x":{"field":"t","type":"quantitative","title":"Time from sample onset (s)"},
        "y":{"field":"d","type":"quantitative","scale":{"domain":[-0.1,0.2],"nice":false,"zero":false},"axis":{"title":"Difference","titleX":-95,"values":[-0.1,0,0.1,0.2],"labelExpr":"datum.value < 0 ? '-' + format(-datum.value,'.1~f') : format(datum.value,'.1~f')"}}}}
     ]}
   ]},
  {"title":{"text":"d","anchor":"start","frame":"group","fontSize":78,"fontWeight":"bold","color":"#111111","dx":-119,"dy":34,"offset":0},
   "bounds":"flush","spacing":39,
   "resolve":{"scale":{"color":"independent","stroke":"independent","strokeDash":"independent","fill":"independent"},"legend":{"color":"independent","stroke":"independent","strokeDash":"independent","fill":"independent"}},
   "vconcat":[
    {"width":755,"height":359,"title":{"text":"WM (feature)","offset":14,"dx":-22},
     "layer":[
      {"data":{"name":"dS"},"mark":{"type":"rect","color":"#e3e3e3"},
       "encoding":{"x":{"field":"t","type":"quantitative","scale":{"domain":[-0.475,4.022],"nice":false,"zero":false},"axis":{"title":null,"labels":false,"values":[0,0.5,1,1.5,2,2.5,3,3.5,4]}},"x2":{"field":"t1"},"y":{"field":"lo","type":"quantitative","title":null},"y2":{"field":"hi"}}},
      {"data":{"name":"vl"},"mark":{"type":"rule","color":"#c0c0c0","strokeDash":[10,7],"strokeWidth":2},
       "encoding":{"x":{"field":"t","type":"quantitative","title":null}}},
      {"data":{"name":"dT"},"mark":{"type":"line","color":"#ff7070","strokeWidth":10,"opacity":0.4,"clip":true},
       "encoding":{"x":{"field":"t","type":"quantitative","title":null},"y":{"field":"m","type":"quantitative","scale":{"domain":[0.165,0.68],"nice":false,"zero":false},"axis":{"title":null,"values":[0.2,0.4,0.6],"labelExpr":"format(datum.value,'.1f')"}}}},
      {"data":{"name":"dT"},"mark":{"type":"line","color":"#ff0000","strokeWidth":3,"clip":true},
       "encoding":{"x":{"field":"t","type":"quantitative","title":null},"y":{"field":"m","type":"quantitative","title":null}}},
      {"data":{"name":"dT"},"mark":{"type":"line","color":"#7070ff","strokeWidth":10,"opacity":0.4,"clip":true},
       "encoding":{"x":{"field":"t","type":"quantitative","title":null},"y":{"field":"n","type":"quantitative","title":null}}},
      {"data":{"name":"dT"},"mark":{"type":"line","color":"#0000ff","strokeWidth":3,"clip":true},
       "encoding":{"x":{"field":"t","type":"quantitative","title":null},"y":{"field":"n","type":"quantitative","title":null}}},
      {"data":{"name":"dB"},"mark":{"type":"rule","color":"#000000","strokeWidth":9,"strokeCap":"round"},
       "encoding":{"x":{"field":"t","type":"quantitative","title":null},"x2":{"field":"t1"},"y":{"field":"v","type":"quantitative","title":null}}}
     ]},
    {"width":755,"height":259,
     "layer":[
      {"data":{"name":"dS"},"mark":{"type":"rect","color":"#e3e3e3"},
       "encoding":{"x":{"field":"t","type":"quantitative","scale":{"domain":[-0.475,4.022],"nice":false,"zero":false},"axis":{"title":"Time from sample onset (s)","titleX":352,"values":[0,0.5,1,1.5,2,2.5,3,3.5,4],"labelExpr":"format(datum.value,'.1~f')"}},"x2":{"field":"t1"}}},
      {"data":{"name":"vl"},"mark":{"type":"rule","color":"#c0c0c0","strokeDash":[10,7],"strokeWidth":2},
       "encoding":{"x":{"field":"t","type":"quantitative","title":"Time from sample onset (s)"}}},
      {"data":{"name":"dC"},"mark":{"type":"line","color":"#ff2020","strokeDash":[2,4],"strokeWidth":2},
       "encoding":{"x":{"field":"t","type":"quantitative","title":"Time from sample onset (s)"},"y":{"field":"hi","type":"quantitative","title":null}}},
      {"data":{"name":"dC"},"mark":{"type":"line","color":"#ff2020","strokeDash":[2,4],"strokeWidth":2},
       "encoding":{"x":{"field":"t","type":"quantitative","title":"Time from sample onset (s)"},"y":{"field":"lo","type":"quantitative","title":null}}},
      {"data":{"name":"one"},"mark":{"type":"rule","strokeWidth":2,"color":"#ff2020","strokeDash":[14,9]},
       "encoding":{"y":{"datum":0}}},
      {"data":{"name":"dD"},"mark":{"type":"line","strokeWidth":2,"color":"#000000","clip":true},
       "encoding":{"x":{"field":"t","type":"quantitative","title":"Time from sample onset (s)"},
        "y":{"field":"d","type":"quantitative","scale":{"domain":[-0.1,0.2],"nice":false,"zero":false},"axis":{"title":null,"values":[-0.1,0,0.1],"labelExpr":"datum.value < 0 ? '-' + format(-datum.value,'.1~f') : format(datum.value,'.1~f')"}}}}
     ]}
   ]}
 ],"spacing":110,
 "resolve":{"scale":{"color":"independent","stroke":"independent","strokeDash":"independent","fill":"independent"},"legend":{"color":"independent","stroke":"independent","strokeDash":"independent","fill":"independent"}}}
]
}
